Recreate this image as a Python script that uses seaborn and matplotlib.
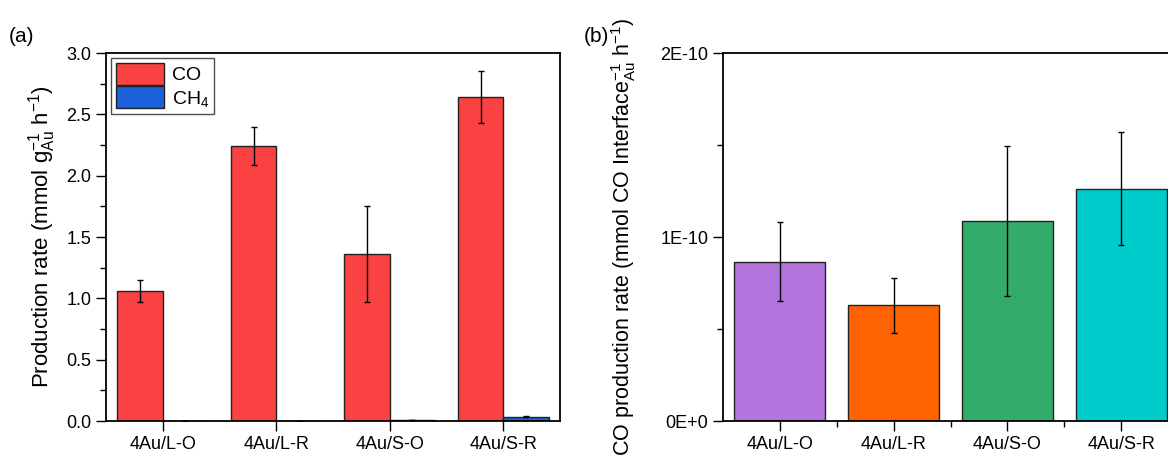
"""Recreate the CO / CH4 production-rate bar charts (panels a and b)."""

import pandas as pd
import matplotlib
matplotlib.use("Agg")
import matplotlib.pyplot as plt
from matplotlib.ticker import MultipleLocator, FixedLocator, FuncFormatter
import seaborn as sns

# ---- data -----------------------------------------------------------------
samples = ["4Au/L-O", "4Au/L-R", "4Au/S-O", "4Au/S-R"]

# panel (a): mmol g_Au^-1 h^-1
co_rate = [1.06, 2.24, 1.36, 2.64]
co_err = [0.09, 0.155, 0.39, 0.21]
ch4_rate = [0.0, 0.002, 0.005, 0.033]
ch4_err = [0.0, 0.0, 0.0, 0.004]

# panel (b): mmol CO interface_Au^-1 h^-1
interface_rate = [0.866e-10, 0.628e-10, 1.087e-10, 1.263e-10]
interface_err = [0.215e-10, 0.149e-10, 0.41e-10, 0.305e-10]

product_colors = ["#FA4242", "#1A60D8"]
sample_colors = ["#B273DC", "#FF6200", "#33AC6B", "#00CCCC"]

# ---- style ----------------------------------------------------------------
sns.set_style("ticks")
plt.rcParams["font.family"] = ["Liberation Sans", "DejaVu Sans"]
plt.rcParams["mathtext.fontset"] = "custom"
plt.rcParams["mathtext.rm"] = "Liberation Sans"
plt.rcParams["mathtext.it"] = "Liberation Sans:italic"
plt.rcParams["mathtext.bf"] = "Liberation Sans:bold"
plt.rcParams["axes.linewidth"] = 1.3
plt.rcParams["axes.edgecolor"] = "black"
for key in ["text.color", "axes.labelcolor", "xtick.color", "ytick.color"]:
    plt.rcParams[key] = "black"


def style_ticks(ax, x_minor=False):
    """Outward, Origin-like ticks on the left and bottom only."""
    ax.tick_params(axis="both", which="major", direction="out", length=7,
                   width=1.0, labelsize=13, color="black",
                   bottom=True, left=True, top=False, right=False)
    ax.tick_params(axis="both", which="minor", direction="out", length=4,
                   width=1.0, color="black",
                   bottom=x_minor, left=True, top=False, right=False)


fig = plt.figure(figsize=(11.68, 4.61), dpi=100)
ax_a = fig.add_axes([106 / 1168, 1 - 421 / 461, 454 / 1168, 368 / 461])
ax_b = fig.add_axes([723 / 1168, 1 - 421 / 461, 455 / 1168, 368 / 461])

# ---- panel (a) ------------------------------------------------------------
df_a = pd.DataFrame({
    "sample": samples * 2,
    "rate": co_rate + ch4_rate,
    "product": ["CO"] * 4 + ["CH$_4$"] * 4,
})
sns.barplot(data=df_a, x="sample", y="rate", hue="product",
            palette=product_colors, errorbar=None, width=0.8,
            edgecolor="#222222", linewidth=1.0, saturation=1, ax=ax_a)

# error bars sit on the bar centres seaborn computed
for container, errs in zip(ax_a.containers, [co_err, ch4_err]):
    xs = [b.get_x() + b.get_width() / 2 for b in container]
    ys = [b.get_height() for b in container]
    ax_a.errorbar(xs, ys, yerr=errs, fmt="none", ecolor="black",
                  elinewidth=1.0, capsize=2.5, capthick=1.0, zorder=5)

ax_a.set_xlim(-0.5, 3.5)
ax_a.set_ylim(0, 3.0)
style_ticks(ax_a)
ax_a.yaxis.set_major_locator(MultipleLocator(0.5))
ax_a.yaxis.set_minor_locator(MultipleLocator(0.25))
ax_a.yaxis.set_major_formatter(FuncFormatter(lambda v, p: f"{v:.1f}"))
ax_a.set_xlabel("")
ax_a.set_ylabel(r"Production rate (mmol g$_{\mathregular{Au}}^{-1}$ h$^{-1}$)",
                fontsize=16, labelpad=6)
leg = ax_a.legend(loc="upper left", fontsize=14, frameon=True, fancybox=False,
                  edgecolor="#222222", handlelength=2.5, handleheight=1.35,
                  borderaxespad=0.25, borderpad=0.25, labelspacing=0.1,
                  handletextpad=0.4)
leg.get_frame().set_linewidth(1.0)
fig.text(9 / 1168, 1 - 42 / 461, "(a)", fontsize=15)

# ---- panel (b) ------------------------------------------------------------
df_b = pd.DataFrame({"sample": samples, "rate": interface_rate})
sns.barplot(data=df_b, x="sample", y="rate", hue="sample",
            palette=sample_colors, errorbar=None, width=0.8, legend=False,
            edgecolor="#222222", linewidth=1.0, saturation=1, ax=ax_b)

bars_b = ax_b.patches
xs_b = [b.get_x() + b.get_width() / 2 for b in bars_b]
ys_b = [b.get_height() for b in bars_b]
ax_b.errorbar(xs_b, ys_b, yerr=interface_err, fmt="none", ecolor="black",
              elinewidth=1.0, capsize=2.5, capthick=1.0, zorder=5)

ax_b.set_xlim(-0.5, 3.5)
ax_b.set_ylim(0, 2e-10)
style_ticks(ax_b, x_minor=True)
ax_b.yaxis.set_major_locator(FixedLocator([0, 1e-10, 2e-10]))
ax_b.yaxis.set_minor_locator(FixedLocator([0.5e-10, 1.5e-10]))
ax_b.yaxis.set_major_formatter(FuncFormatter(
    lambda v, p: "0E+0" if v == 0 else f"{v / 1e-10:.0f}E-10"))
ax_b.xaxis.set_minor_locator(FixedLocator([0.5, 1.5, 2.5]))
ax_b.yaxis.get_offset_text().set_visible(False)
ax_b.set_xlabel("")
ax_b.set_ylabel(r"CO production rate (mmol CO Interface$_{\mathregular{Au}}^{-1}$ h$^{-1}$)",
                fontsize=15.5, labelpad=16)
fig.text(584 / 1168, 1 - 42 / 461, "(b)", fontsize=15)

fig.savefig("out.png", dpi=100)
